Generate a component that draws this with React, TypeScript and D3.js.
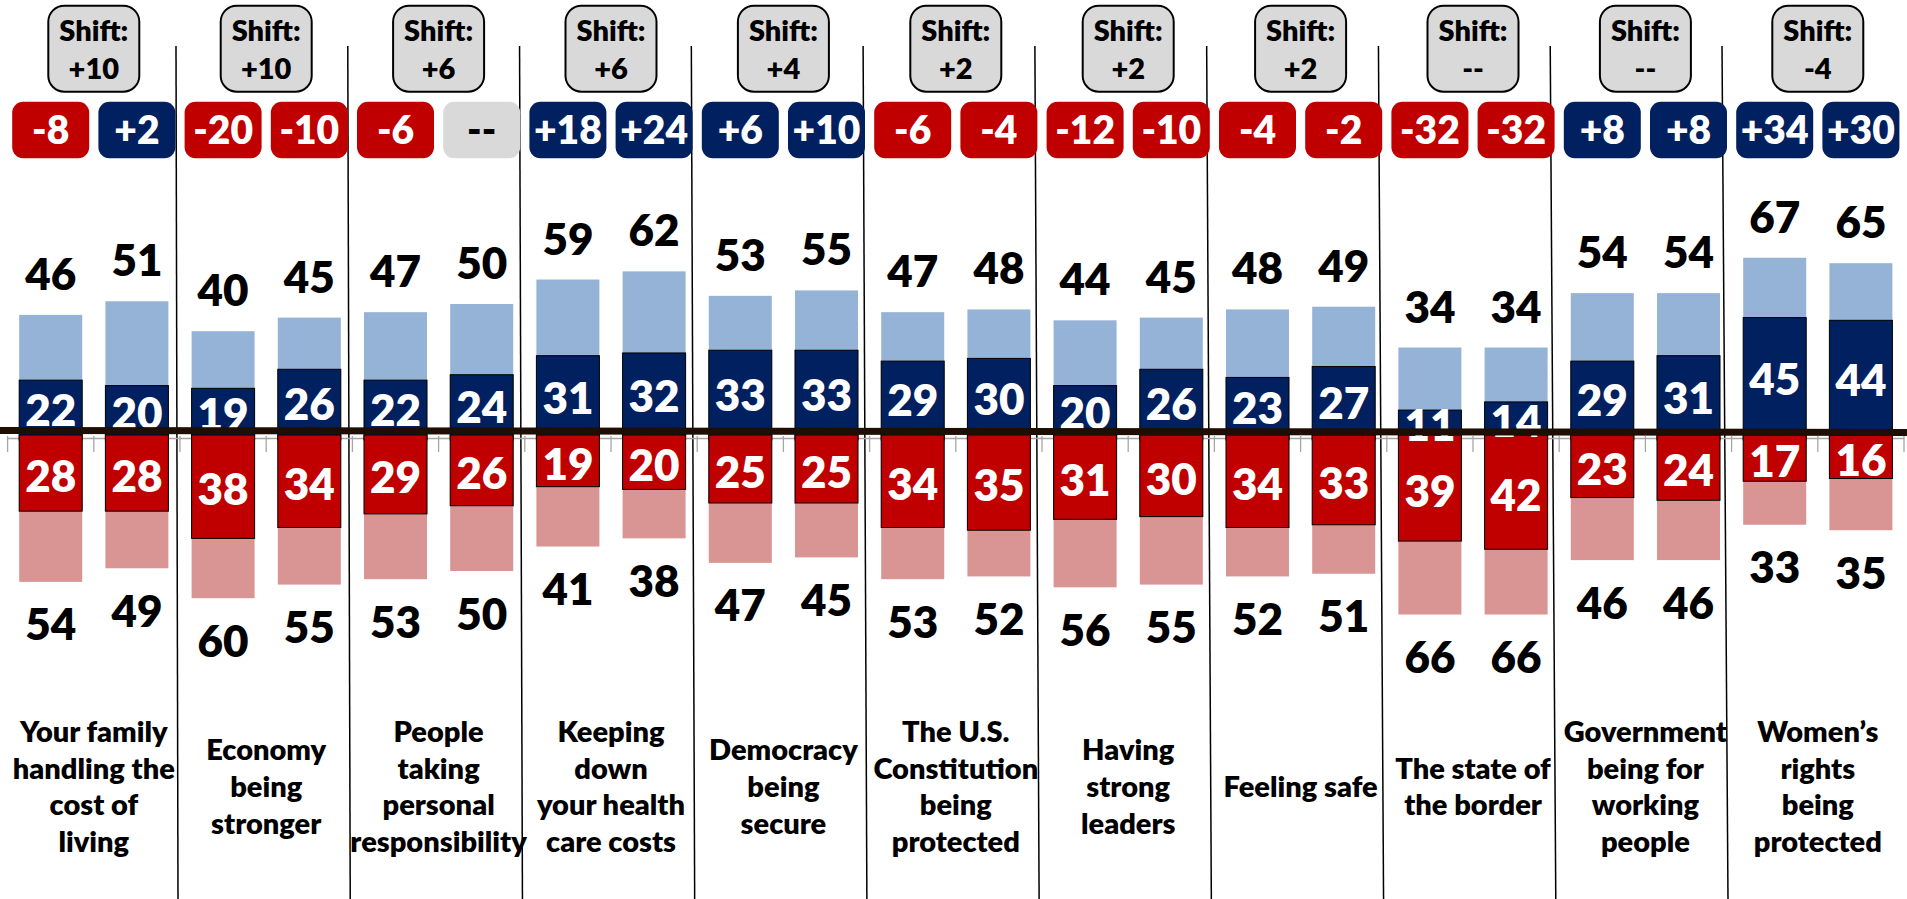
import React from 'react';
import * as d3 from 'd3';

const CATEGORIES: string[][] = [
  ['Your family', 'handling the', 'cost of', 'living'],
  ['Economy', 'being', 'stronger'],
  ['People', 'taking', 'personal', 'responsibility'],
  ['Keeping', 'down', 'your health', 'care costs'],
  ['Democracy', 'being', 'secure'],
  ['The U.S.', 'Constitution', 'being', 'protected'],
  ['Having', 'strong', 'leaders'],
  ['Feeling safe'],
  ['The state of', 'the border'],
  ['Government', 'being for', 'working', 'people'],
  ['Women\u2019s', 'rights', 'being', 'protected'],
];
const SHIFT = ['+10', '+10', '+6', '+6', '+4', '+2', '+2', '+2', '--', '--', '-4'];
const CHANGE_A = ['-8', '-20', '-6', '+18', '+6', '-6', '-12', '-4', '-32', '+8', '+34'];
const CHANGE_B = ['+2', '-10', '--', '+24', '+10', '-4', '-10', '-2', '-32', '+8', '+30'];
const BLUE_STRONG_A = [22, 19, 22, 31, 33, 29, 20, 23, 11, 29, 45];
const BLUE_STRONG_B = [20, 26, 24, 32, 33, 30, 26, 27, 14, 31, 44];
const BLUE_TOTAL_A = [46, 40, 47, 59, 53, 47, 44, 48, 34, 54, 67];
const BLUE_TOTAL_B = [51, 45, 50, 62, 55, 48, 45, 49, 34, 54, 65];
const RED_STRONG_A = [28, 38, 29, 19, 25, 34, 31, 34, 39, 23, 17];
const RED_STRONG_B = [28, 34, 26, 20, 25, 35, 30, 33, 42, 24, 16];
const RED_TOTAL_A = [54, 60, 53, 41, 47, 53, 56, 52, 66, 46, 33];
const RED_TOTAL_B = [49, 55, 50, 38, 45, 52, 55, 51, 66, 46, 35];

const W = 1907;
const H = 899;
const FONT = 'Lato, "Open Sans", sans-serif';
const WEIGHT = 800;
const DARK_BLUE = '#002060';
const LIGHT_BLUE = '#95B3D7';
const DARK_RED = '#C00000';
const LIGHT_RED = '#D99594';

export default function App() {
  const idx = d3.range(CATEGORIES.length);
  const x0 = d3.scaleBand<number>().domain(idx).range([7.6, 1904]).padding(0);
  const x1 = d3
    .scaleBand<number>()
    .domain([0, 1])
    .range([0, x0.bandwidth()])
    .paddingInner(0.269)
    .paddingOuter(0.1345);
  const yUp = d3.scaleLinear().domain([0, 100]).range([440, 440 - 272]);
  const yDown = d3.scaleLinear().domain([0, 100]).range([435, 435 + 272]);
  const sepX = d3.scaleLinear().domain([1, 10]).range([176, 1722]);
  const sepTilt = d3.scaleLinear().domain([1, 10]).range([2, 6]);

  const bars = idx.flatMap((i) => [
    { i, j: 0, bs: BLUE_STRONG_A[i], bt: BLUE_TOTAL_A[i], rs: RED_STRONG_A[i], rt: RED_TOTAL_A[i], ch: CHANGE_A[i] },
    { i, j: 1, bs: BLUE_STRONG_B[i], bt: BLUE_TOTAL_B[i], rs: RED_STRONG_B[i], rt: RED_TOTAL_B[i], ch: CHANGE_B[i] },
  ]);
  const bw = x1.bandwidth();
  const step = x0.step();
  const ticks = d3.range(CATEGORIES.length * 2 + 1).map((k) => (x0(0) as number) + (k * step) / 2);

  const badgeColor = (s: string) => (s === '--' ? '#D9D9D9' : s.startsWith('+') ? DARK_BLUE : DARK_RED);

  const NUM = 44;
  const half = NUM * 0.358;

  return (
    <svg
      width={W}
      height={H}
      style={{ position: 'absolute', left: 0, top: 0, display: 'block', background: '#fff' }}
      fontFamily={FONT}
      fontWeight={WEIGHT}
    >
      <rect x={0} y={0} width={W} height={H} fill="#fff" />
      {d3.range(1, 11).map((k) => (
        <line
          key={'sep' + k}
          x1={sepX(k)}
          x2={sepX(k) + sepTilt(k)}
          y1={46}
          y2={H}
          stroke="#000"
          strokeWidth={1.5}
        />
      ))}
      <line x1={ticks[0]} x2={ticks[ticks.length - 1]} y1={438.5} y2={438.5} stroke="#A6A6A6" strokeWidth={1.3} />
      {ticks.map((t, k) => (
        <line key={'t' + k} x1={t} x2={t} y1={436} y2={452} stroke="#A6A6A6" strokeWidth={1.3} />
      ))}
      {bars.map((b) => {
        const x = (x0(b.i) as number) + (x1(b.j) as number);
        return (
          <g key={'b' + b.i + '-' + b.j}>
            <rect x={x} y={yUp(b.bt)} width={bw} height={yUp(0) - yUp(b.bt)} fill={LIGHT_BLUE} />
            <rect
              x={x}
              y={yUp(b.bs)}
              width={bw}
              height={yUp(0) - yUp(b.bs)}
              fill={DARK_BLUE}
              stroke="#000"
              strokeWidth={1}
            />
            <rect x={x} y={yDown(0)} width={bw} height={yDown(b.rt) - yDown(0)} fill={LIGHT_RED} />
            <rect
              x={x}
              y={yDown(0)}
              width={bw}
              height={yDown(b.rs) - yDown(0)}
              fill={DARK_RED}
              stroke="#000"
              strokeWidth={1}
            />
          </g>
        );
      })}
      {bars.map((b) => {
        const cx = (x0(b.i) as number) + (x1(b.j) as number) + bw / 2;
        return (
          <g key={'l' + b.i + '-' + b.j} textAnchor="middle" fontSize={NUM}>
            <text x={cx} y={yUp(b.bt) - 25} fill="#000">
              {b.bt}
            </text>
            <text x={cx} y={(yUp(b.bs) + yUp(0)) / 2 + half} fill="#fff">
              {b.bs}
            </text>
            <text x={cx} y={(yDown(0) + yDown(b.rs)) / 2 + 3 + half} fill="#fff">
              {b.rs}
            </text>
            <text x={cx} y={yDown(b.rt) + 27 + 2 * half} fill="#000">
              {b.rt}
            </text>
          </g>
        );
      })}
      <line x1={0} x2={W} y1={430.5} y2={432.5} stroke="#1F0E04" strokeWidth={7} />
      {bars.map((b) => {
        const cx = (x0(b.i) as number) + (x1(b.j) as number) + bw / 2;
        return (
          <g key={'c' + b.i + '-' + b.j}>
            <rect x={cx - 38.5} y={101.7} width={77} height={56.6} rx={11} fill={badgeColor(b.ch)} />
            <text
              x={cx}
              y={143.5}
              textAnchor="middle"
              fontSize={39}
              fill={b.ch === '--' ? '#000' : '#fff'}
            >
              {b.ch}
            </text>
          </g>
        );
      })}
      {idx.map((i) => {
        const cx = (x0(i) as number) + step / 2;
        return (
          <g key={'s' + i} textAnchor="middle" fontSize={29}>
            <rect x={cx - 45.5} y={5.7} width={91} height={86} rx={16} fill="#D9D9D9" stroke="#000" strokeWidth={2} />
            <text x={cx} y={40.5}>Shift:</text>
            <text x={cx} y={78.5}>{SHIFT[i]}</text>
          </g>
        );
      })}
      {idx.map((i) => {
        const cx = (x0(i) as number) + step / 2;
        const lines = CATEGORIES[i];
        const n = lines.length;
        return (
          <text key={'cat' + i} textAnchor="middle" fontSize={29} fill="#000">
            {lines.map((ln, k) => (
              <tspan key={k} x={cx} y={797 + (k - (n - 1) / 2) * 36.7}>
                {ln}
              </tspan>
            ))}
          </text>
        );
      })}
    </svg>
  );
}
